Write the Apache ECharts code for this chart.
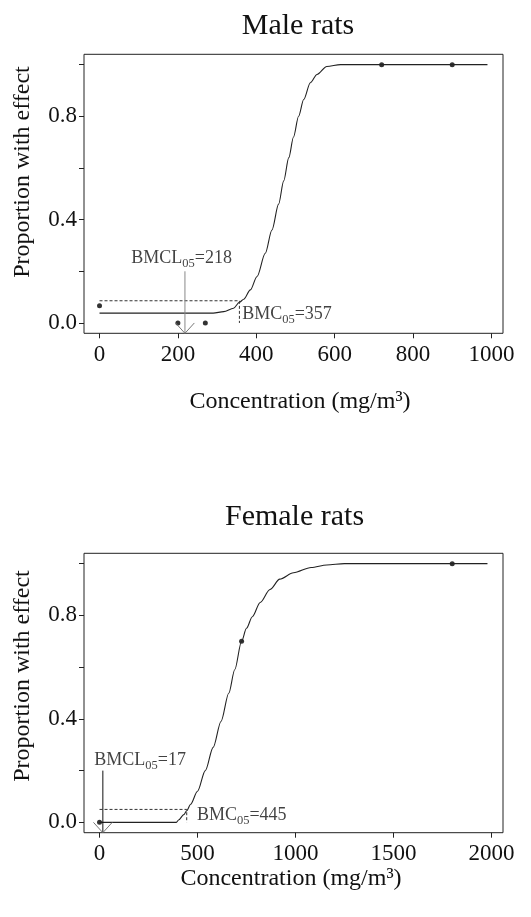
<!DOCTYPE html>
<html>
<head>
<meta charset="utf-8">
<script src="https://cdn.jsdelivr.net/npm/echarts@6/dist/echarts.min.js"></script>
<style>
html, body { margin: 0; padding: 0; background: #fff; }
#chart { width: 531px; height: 917px; }
</style>
</head>
<body>
<div id="chart"></div>
<script>
// ---- male rats ----
const maleDose = [0, 200, 270, 720, 900];
const maleResp = [0.067, 0, 0, 1, 1];
const maleFitX = [0, 290, 317, 342, 357, 368, 385, 402, 423, 440, 457, 470, 483, 495, 508, 521, 538, 555, 580, 615, 990];
const maleFitY = [0.038, 0.038, 0.044, 0.057, 0.08, 0.092, 0.128, 0.18, 0.27, 0.36, 0.46, 0.55, 0.64, 0.72, 0.8, 0.865, 0.93, 0.962, 0.993, 1, 1];
const maleBMC = 357;
const maleBMCL = 218;
const maleBMR = 0.086;

// ---- female rats ----
const femaleDose = [0, 725, 1800];
const femaleResp = [0, 0.7, 1];
const femaleFitX = [0, 392, 405, 430, 445, 465, 500, 540, 580, 620, 660, 690, 725, 750, 780, 820, 870, 920, 990, 1080, 1160, 1250, 1980];
const femaleFitY = [0, 0, 0.01, 0.03, 0.045, 0.07, 0.12, 0.2, 0.29, 0.39, 0.5, 0.59, 0.7, 0.75, 0.795, 0.85, 0.9, 0.94, 0.965, 0.985, 0.995, 1, 1];
const femaleBMC = 445;
const femaleBMCL = 17;
const femaleBMR = 0.05;

// ticks
const maleXTicks = [0, 200, 400, 600, 800, 1000];
const femaleXTicks = [0, 500, 1000, 1500, 2000];
const yTicks = [0, 0.2, 0.4, 0.6, 0.8, 1];
const yLabels = [0, 0.4, 0.8];

const FONT = 'Liberation Serif';
const INK = '#111';

const chart = echarts.init(document.getElementById('chart'));

const zip = (xs, ys) => xs.map((x, i) => [x, ys[i]]);

function xAx(gi, min, max, ticks) {
  return {
    gridIndex: gi, type: 'value', min, max,
    axisLine: { show: false, onZero: false },
    splitLine: { show: false },
    axisTick: { show: true, length: 5, lineStyle: { color: '#222' }, customValues: ticks },
    axisLabel: { customValues: ticks, margin: 10, fontSize: 23, color: INK, fontFamily: FONT,
      formatter: v => String(v) }
  };
}
function yAx(gi) {
  return {
    gridIndex: gi, type: 'value', min: -0.04, max: 1.04,
    axisLine: { show: false, onZero: false },
    splitLine: { show: false },
    axisTick: { show: true, length: 5, lineStyle: { color: '#222' }, customValues: yTicks },
    axisLabel: { customValues: yLabels, margin: 7, fontSize: 23, color: INK, fontFamily: FONT,
      formatter: v => v.toFixed(1) }
  };
}

const rich = {
  a: { fontSize: 18, lineHeight: 24, fontFamily: FONT, color: INK },
  s: { fontSize: 12.5, lineHeight: 10, verticalAlign: 'bottom', fontFamily: FONT, color: INK }
};

// one panel's series (curve, points, BMC guide, BMCL arrow, labels)
function panel(gi, fx, fy, dose, resp, bmc, bmcl, bmr, headW, bmclLabelAt, bmcLabelAt, arrowColor) {
  const common = { xAxisIndex: gi, yAxisIndex: gi, silent: true, animation: false };
  return [
    { ...common, type: 'line', data: zip(fx, fy), symbol: 'none', smooth: 0.3, smoothMonotone: 'x',
      lineStyle: { color: '#222', width: 1.1 } },
    { ...common, type: 'line', data: [[0, bmr], [bmc, bmr], [bmc, 0]], symbol: 'none',
      lineStyle: { color: '#333', width: 1, type: [3, 2] } },
    { ...common, type: 'line', data: [[bmcl, 0.2], [bmcl, -0.04]], symbol: 'none', clip: false,
      lineStyle: { color: arrowColor, width: 1 } },
    { ...common, type: 'line', data: [[bmcl - headW, 0], [bmcl, -0.04], [bmcl + headW, 0]], symbol: 'none', clip: false,
      lineStyle: { color: '#777', width: 1 } },
    { ...common, type: 'scatter', data: zip(dose, resp), symbolSize: 5, itemStyle: { color: '#000' } },
    { ...common, type: 'scatter', symbolSize: 0, clip: false,
      data: [
        { value: bmclLabelAt, label: { formatter: '{a|BMCL}{s|05}{a|=' + bmcl + '}' } },
        { value: bmcLabelAt, label: { formatter: '{a|BMC}{s|05}{a|=' + bmc + '}' } }
      ],
      label: { show: true, position: 'right', distance: 0, rich } }
  ];
}

const txt = (x, y, text, size, rot) => ({
  type: 'text', x, y, rotation: rot || 0, silent: true,
  style: { text, fontSize: size, fontFamily: FONT, fill: INK, align: 'center', verticalAlign: 'middle' }
});

chart.setOption({
  animation: false,
  backgroundColor: '#fff',
  grid: [
    { left: 84, top: 54.3, width: 419, height: 279, show: true, borderColor: '#222', borderWidth: 1 },
    { left: 84, top: 553.3, width: 419, height: 279.4, show: true, borderColor: '#222', borderWidth: 1 }
  ],
  xAxis: [xAx(0, -39.6, 1029.6, maleXTicks), xAx(1, -79.2, 2059.2, femaleXTicks)],
  yAxis: [yAx(0), yAx(1)],
  graphic: [
    txt(298, 26, 'Male rats', 30),
    txt(300, 402, 'Concentration (mg/m³)', 24),
    txt(23, 172, 'Proportion with effect', 24, Math.PI / 2),
    txt(294.5, 517, 'Female rats', 30),
    txt(291, 879, 'Concentration (mg/m³)', 24),
    txt(23, 676, 'Proportion with effect', 24, Math.PI / 2)
  ],
  series: [
    ...panel(0, maleFitX, maleFitY, maleDose, maleResp, maleBMC, maleBMCL, maleBMR, 24, [81, 0.249], [364, 0.033], '#888'),
    ...panel(1, femaleFitX, femaleFitY, femaleDose, femaleResp, femaleBMC, femaleBMCL, femaleBMR, 48, [-27, 0.241], [497, 0.026], '#111')
  ]
});
</script>
</body>
</html>
